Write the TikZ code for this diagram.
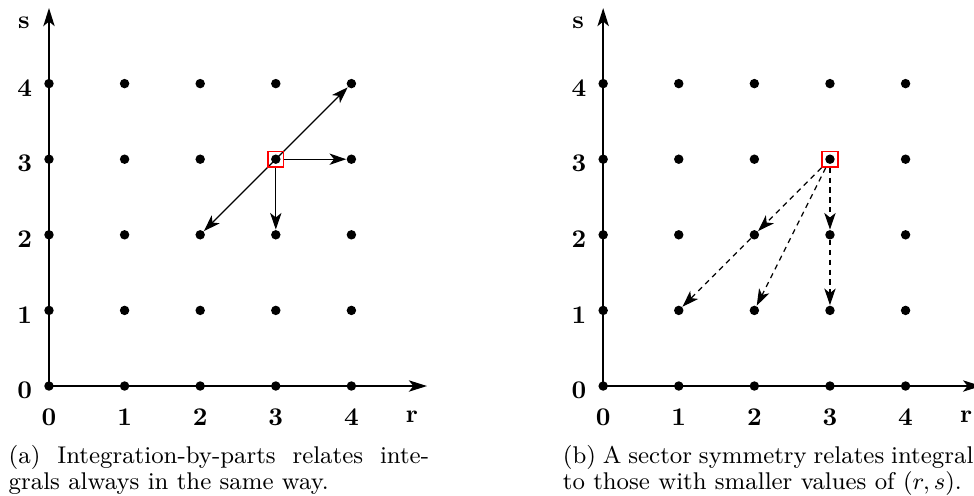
\documentclass[tikz,border=0pt]{standalone}
\usetikzlibrary{arrows.meta}

\begin{document}
\begin{tikzpicture}[
    font=\fontsize{9.1}{9.7}\selectfont,
    >={Stealth[length=2.2mm, width=1.5mm, inset=0.6mm]},
    dot/.style={
        circle,
        fill,
        inner sep=0pt,
        minimum size=1.25mm
    },
    focus/.style={
        draw=red,
        line width=0.5pt,
        minimum size=2.1mm,
        inner sep=0pt
    },
    axis/.style={
        -{Stealth[length=2.4mm, width=1.5mm, inset=0.6mm]},
        line width=0.6pt
    },
    arrow/.style={
        ->,
        line width=0.45pt
    },
    sym/.style={
        arrow,
        dash pattern=on 2pt off 1.7pt
    },
    num/.style={
        font=\fontsize{9.6}{11}\selectfont\bfseries,
        inner sep=0pt
    },
    caption/.style={
        text width=5.56cm,
        align=justify,
        inner sep=0pt,
        anchor=north west
    }
]
\useasboundingbox (-0.648,-1.442) rectangle (12.235,5.106);
\clip (-0.648,-1.442) rectangle (12.235,5.106);

% (a) integration by parts
\coordinate (aO) at (0,0);
\coordinate (ar) at (5,0);
\coordinate (as) at (0,5);
\draw[axis] (aO) -- (ar);
\draw[axis] (aO) -- (as);

\foreach \r in {0,...,4}
    \foreach \s in {0,...,4}
        \node[dot] (a\r\s) at (\r,\s) {};

\foreach \n in {0,...,4} {
    \node[num] (ax\n) at (\n,-0.41) {\n};
    \node[num] (ay\n) at (-0.32,\n-0.06) {\n};
}
\node[num] (arlab) at (4.8,-0.41) {r};
\node[num] (aslab) at (-0.33,4.8) {s};

\node[focus] (abox) at (3,3) {};

\draw[arrow, <->] (a22) -- (a44);
\draw[arrow] (abox) -- (a43);
\draw[arrow] (abox) -- (a32);
\node[focus] at (abox) {};

\node[caption] (acap) at (-0.54,-0.78)
    {(a) Integration-by-parts relates inte-\linebreak grals always in the same way.};

% (b) sector symmetry
\begin{scope}[xshift=7.33cm]
\coordinate (bO) at (0,0);
\coordinate (br) at (5,0);
\coordinate (bs) at (0,5);
\draw[axis] (bO) -- (br);
\draw[axis] (bO) -- (bs);

\foreach \r in {0,...,4}
    \foreach \s in {0,...,4}
        \node[dot] (b\r\s) at (\r,\s) {};

\foreach \n in {0,...,4} {
    \node[num] (bx\n) at (\n,-0.41) {\n};
    \node[num] (by\n) at (-0.32,\n-0.06) {\n};
}
\node[num] (brlab) at (4.8,-0.41) {r};
\node[num] (bslab) at (-0.33,4.8) {s};

\node[focus] (bbox) at (3,3) {};

\draw[sym] (bbox) -- (b22);
\draw[sym] (b22) -- (b11);
\draw[sym] (bbox) -- (b21);
\draw[sym] (bbox) -- (b32);
\draw[sym] (b32) -- (b31);

\node[caption] (bcap) at (-0.54,-0.78)
    {(b) A sector symmetry relates integrals\linebreak to those with smaller values of $(r,s)$.};
\end{scope}
\end{tikzpicture}
\end{document}
